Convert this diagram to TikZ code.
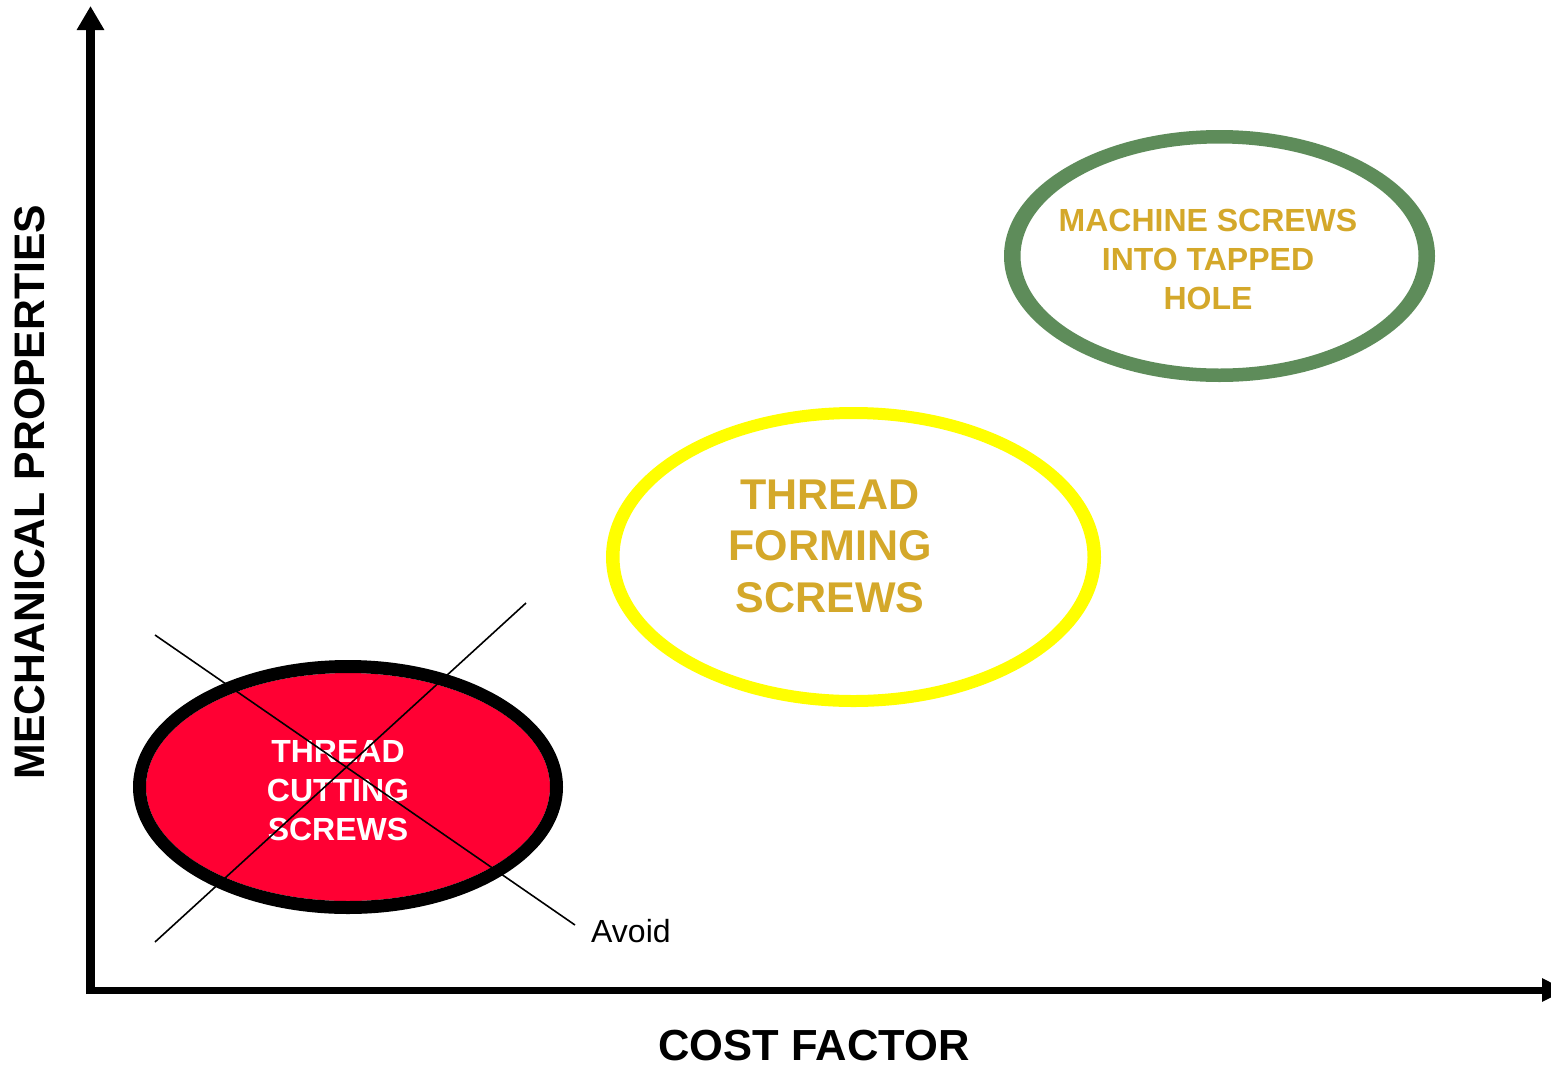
\documentclass[tikz,border=0pt]{standalone}
\usepackage{fontspec}
\setmainfont{Liberation Sans}
\usetikzlibrary{arrows.meta,shapes.geometric}
\definecolor{redfill}{HTML}{FF0033}
\definecolor{gold}{HTML}{D4A82A}
\definecolor{greenring}{HTML}{5E8C5A}
\definecolor{yellowring}{HTML}{FFFF00}
\begin{document}
\begin{tikzpicture}[x=1pt,y=-1pt,
  yaxis/.style={line width=9pt,-{Triangle[width=26pt,length=24pt]}},
  xaxis/.style={line width=7pt,-{Triangle[width=22pt,length=24pt]}},
  lbl/.style={align=center},
  cross/.style={line width=1.6pt}]
\clip (0,0) rectangle (1551,1069);
\useasboundingbox (0,0) rectangle (1551,1069);
\coordinate (ybot) at (90.5,994);
\coordinate (ytip) at (90.5,6);
\coordinate (xleft) at (86,990);
\coordinate (xtip) at (1566,990);
\draw[yaxis] (ybot) -- (ytip);
\draw[xaxis] (xleft) -- (xtip);
% red ellipse
\coordinate (rc) at (348,787);
\fill[redfill] (rc) ellipse [x radius=202, y radius=114];
\fill[black,even odd rule] (rc) ellipse [x radius=215, y radius=127] (rc) ellipse [x radius=202, y radius=114];
% yellow ellipse
\coordinate (yc) at (853.5,557);
\fill[yellowring,even odd rule] (yc) ellipse [x radius=247.5, y radius=150] (yc) ellipse [x radius=234, y radius=138];
% green ellipse
\coordinate (gc) at (1219.5,256);
\fill[greenring,even odd rule] (gc) ellipse [x radius=215.5, y radius=126] (gc) ellipse [x radius=199, y radius=112.5];
% cross
\coordinate (c1a) at (155,635);
\coordinate (c1b) at (575,925);
\coordinate (c2a) at (155,942);
\coordinate (c2b) at (526,603);
% texts
\node[lbl,text=white,font=\bfseries\fontsize{32}{39}\selectfont] (redt) at (338,791) {THREAD\\CUTTING\\SCREWS};
\draw[cross] (c1a) -- (c1b);
\draw[cross] (c2a) -- (c2b);
\node[anchor=west,font=\fontsize{32}{38}\selectfont,inner sep=0pt] (avoid) at (591,931) {Avoid};
\node[lbl,text=gold,font=\bfseries\fontsize{43}{51.5}\selectfont] (yelt) at (830,546) {THREAD\\FORMING\\SCREWS};
\node[lbl,text=gold,font=\bfseries\fontsize{32}{39}\selectfont] (grnt) at (1208,259) {MACHINE SCREWS\\INTO TAPPED\\HOLE};
\node[font=\bfseries\fontsize{42.7}{48}\selectfont,rotate=90] (ylab) at (30,492) {MECHANICAL PROPERTIES};
\node[font=\bfseries\fontsize{43.5}{48}\selectfont,inner sep=0pt] (xlab) at (814,1046) {COST FACTOR};
\end{tikzpicture}
\end{document}
